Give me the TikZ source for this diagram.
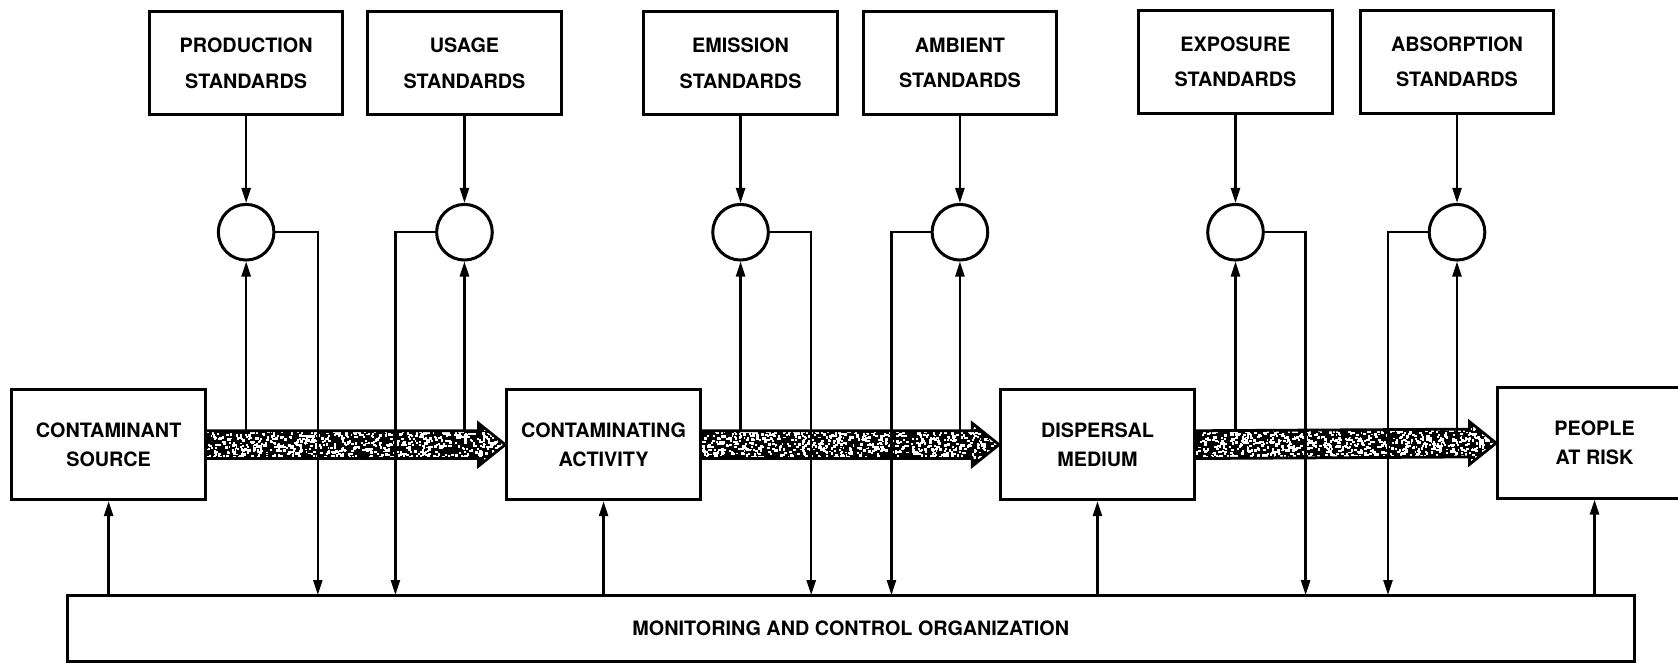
\documentclass[tikz,border=0pt]{standalone}
\usepackage{fontspec}
\setmainfont{TeX Gyre Heros}
\usetikzlibrary{arrows.meta,calc}
\begin{document}
\begin{tikzpicture}[x=1pt,y=-1pt,
  stdbox/.style={draw, line width=2.8pt, minimum width=181pt, minimum height=96pt, inner sep=0pt,
    font=\bfseries\fontsize{18.5pt}{33pt}\selectfont, align=center},
  mainbox/.style={draw, line width=2.8pt, minimum width=181pt, minimum height=103pt, inner sep=0pt,
    font=\bfseries\fontsize{18.5pt}{27.5pt}\selectfont, align=center},
  cmp/.style={draw, circle, line width=2.8pt, minimum size=52pt, inner sep=0pt},
  arr/.style={line width=2.1pt, -{Triangle[length=14pt,width=8.5pt]}},
  fatout/.style={line width=2.6pt, line join=miter},
  monbox/.style={draw, line width=2.8pt, minimum width=1464pt, minimum height=62pt, inner sep=0pt,
    font=\bfseries\fontsize{18.5pt}{22pt}\selectfont}
]
\useasboundingbox (0,0) rectangle (1568,620);
\clip (0,0) rectangle (1568,620);

% standards boxes
\node[stdbox] (prod) at (230,59)    {PRODUCTION\\STANDARDS};
\node[stdbox] (usage) at (434,59)   {USAGE\\STANDARDS};
\node[stdbox] (emis) at (692,59)    {EMISSION\\STANDARDS};
\node[stdbox] (amb) at (897,59)     {AMBIENT\\STANDARDS};
\node[stdbox] (expo) at (1154.5,58) {EXPOSURE\\STANDARDS};
\node[stdbox] (absb) at (1361.5,58) {ABSORPTION\\STANDARDS};

% comparators
\node[cmp] (c1) at (prod |- 0,217) {};
\node[cmp] (c2) at (usage |- 0,217) {};
\node[cmp] (c3) at (emis |- 0,217) {};
\node[cmp] (c4) at (amb |- 0,217) {};
\node[cmp] (c5) at (expo |- 0,217) {};
\node[cmp] (c6) at (absb |- 0,217) {};

% main chain
\node[mainbox] (cs) at (101.5,415.5) {CONTAMINANT\\SOURCE};
\node[mainbox] (ca) at (564,415.5)   {CONTAMINATING\\ACTIVITY};
\node[mainbox] (dm) at (1025.5,415.5){DISPERSAL\\MEDIUM};
\node[mainbox] (pr) at (1490,414)    {PEOPLE\\AT RISK};

% monitoring
\node[monbox] (mon) at (795,587) {MONITORING AND CONTROL ORGANIZATION};

% fat stippled arrows
\pgfmathsetseed{7}
\foreach \a/\b in {cs/ca,ca/dm,dm/pr}{
  \begin{scope}
    \clip ($(\a.east)+(0,-13)$) -- ($(\b.west)+(-25,-13)$) -- ($(\b.west)+(-25,-20)$) -- (\b.west)
      -- ($(\b.west)+(-25,20)$) -- ($(\b.west)+(-25,13)$) -- ($(\a.east)+(0,13)$) -- cycle;
    \fill[black] ($(\a.east)+(0,-25)$) rectangle ($(\b.west)+(0,25)$);
    \foreach \k in {1,...,1000}{
      \fill[white] ($(\a.east)+({rnd*285},{rnd*34-17})$) rectangle ++({1.5+rnd*1.5},{1.5+rnd*1.2});
    }
  \end{scope}
  \draw[fatout] ($(\a.east)+(0,-13)$) -- ($(\b.west)+(-25,-13)$) -- ($(\b.west)+(-25,-20)$) -- (\b.west)
      -- ($(\b.west)+(-25,20)$) -- ($(\b.west)+(-25,13)$) -- ($(\a.east)+(0,13)$);
}

% standards to comparators
\foreach \s/\c in {prod/c1,usage/c2,emis/c3,amb/c4,expo/c5,absb/c6}{
  \draw[arr] (\s.south) -- (\c.north);
}

% flow taps to comparators
\foreach \c/\m in {c1/cs,c2/cs,c3/ca,c4/ca,c5/dm,c6/dm}{
  \draw[arr] ($(\c.south |- \m.east)+(0,-13)$) -- (\c.south);
}

% comparators to monitoring
\coordinate (d1) at (297,556);
\coordinate (d2) at (369.5,556);
\coordinate (d3) at (758,556);
\coordinate (d4) at (833,556);
\coordinate (d5) at (1220,556);
\coordinate (d6) at (1297,556);
\draw[arr] (c1.east) -| (d1);
\draw[arr] (c2.west) -| (d2);
\draw[arr] (c3.east) -| (d3);
\draw[arr] (c4.west) -| (d4);
\draw[arr] (c5.east) -| (d5);
\draw[arr] (c6.west) -| (d6);

% monitoring to main chain
\foreach \m in {cs,ca,dm,pr}{
  \draw[arr] (\m.south |- mon.north) -- (\m.south);
}
\end{tikzpicture}
\end{document}
